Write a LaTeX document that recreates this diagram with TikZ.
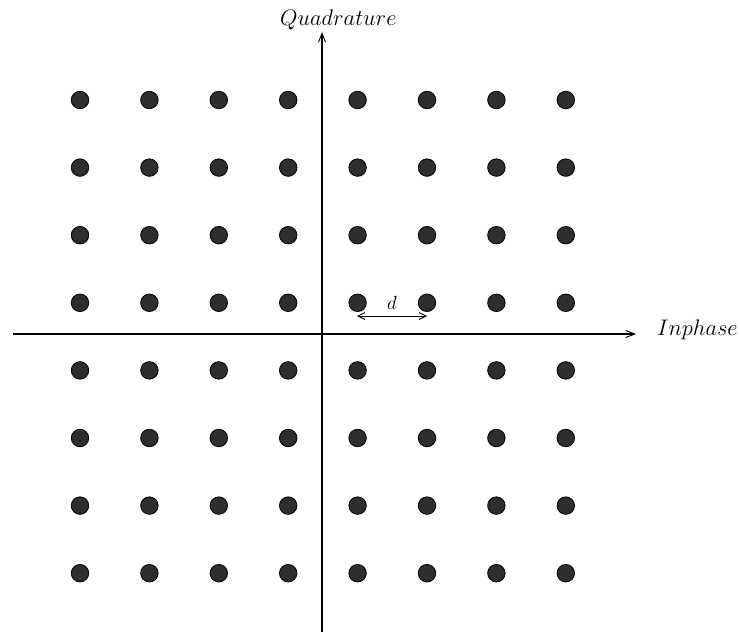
\RequirePackage{fix-cm}
\documentclass[tikz,border=0pt]{standalone}
\usetikzlibrary{arrows.meta}
\begin{document}
\begin{tikzpicture}[x=1pt,y=-1pt,
  pt/.style={circle,fill=black!82,draw=black,line width=0.8pt,minimum size=17.5pt,inner sep=0pt},
  axis/.style={line width=1.1pt,-{Straight Barb[length=9pt,width=7pt,line width=0.9pt]}},
  lbl/.style={font=\fontsize{22.5}{26}\selectfont}]
\useasboundingbox (0,0) rectangle (740,632);
\foreach \i in {0,...,7}{
  \foreach \j in {0,...,7}{
    \node[pt] (p\i\j) at ({80+69.4*\i},{100+67.6*\j}) {};
  }
}
\coordinate (vb) at (322,632);
\coordinate (vt) at (322,32);
\coordinate (hl) at (13,334);
\coordinate (hr) at (636,334);
\draw[axis] (vb) -- (vt);
\draw[axis] (hl) -- (hr);
\node[lbl,anchor=base west,inner sep=0pt] (qlab) at (280,25) {$Quadrature$};
\node[lbl,anchor=base west,inner sep=0pt] (ilab) at (657,335) {$Inphase$};
\coordinate (da) at (357,316);
\coordinate (db) at (427,316);
\draw[line width=0.9pt,{Straight Barb[length=7pt,width=7pt]}-{Straight Barb[length=7pt,width=7pt]}] (da) -- (db);
\node[font=\fontsize{19}{22}\selectfont,anchor=base,inner sep=0pt] (dlab) at (392,309) {$d$};
\end{tikzpicture}
\end{document}
